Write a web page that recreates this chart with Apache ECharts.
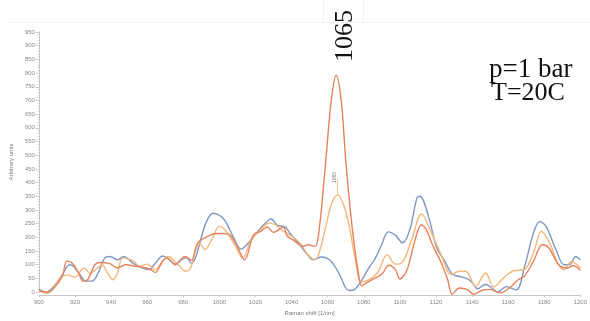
<!DOCTYPE html>
<html>
<head>
<meta charset="utf-8">
<script src="https://cdn.jsdelivr.net/npm/echarts@6/dist/echarts.min.js"></script>
<style>
  html, body { margin: 0; padding: 0; background: #fff; }
  #chart { width: 590px; height: 321px; }
</style>
</head>
<body>
<div id="chart"></div>
<script>
// Raman spectra, three runs at p = 1 bar, T = 20 C
const blueShift = [900,904,909,913,917,919,923,926,929.5,933,936.5,939.5,943.5,947,952,956.5,961,964.5,968.5,972,975.5,979.5,982,984.5,987,990,993,996.5,1000,1003,1007.5,1012,1017.5,1022,1026,1028.5,1032,1036.5,1039,1044.5,1049,1052,1056.5,1061,1066,1070,1072,1075,1079,1083,1086.5,1090,1093.5,1097.5,1101.5,1105.5,1109.5,1111,1113,1116.5,1120.5,1124.5,1129,1133,1137,1140,1143,1147.5,1151,1154,1159,1164.5,1169,1174,1177.5,1181,1186.5,1191,1194,1197.5,1200];
const blueValues = [10,0,27,64,100,95,62,40,40,72,125,130,118,130,106,90,82,105,132,120,102,120,125,105,130,200,260,288,280,262,205,157,190,228,255,268,245,238,216,173,135,118,128,118,72,15,6,10,45,90,125,175,220,208,180,228,345,350,335,262,160,118,66,57,50,35,12,28,15,0,20,8,90,215,258,240,155,100,100,130,118];

const redShift = [900,905,909,913,915.5,918.5,922,924.5,927,931,934,939,943.5,948,954,959.5,962,964.5,968.5,971,975.5,978.5,981,984.5,988,994,998,1002,1006,1010,1014,1019,1023,1026.5,1030,1035.5,1037.5,1041,1046.5,1049,1053,1055.5,1059,1062,1064.7,1067.5,1070,1073.5,1077,1079,1081,1086.5,1090,1094,1097.5,1100,1104,1108,1112,1114.5,1118.5,1123,1126.5,1129,1133,1137.5,1141,1145,1150,1155.5,1161,1165.5,1169,1174,1179,1182.5,1188,1192.5,1196,1200];
const redValues = [5,0,20,58,113,105,70,40,45,100,108,105,88,100,94,88,82,72,112,125,100,118,130,116,180,205,214,214,208,165,118,210,222,238,218,238,205,190,167,173,167,240,483,700,792,700,483,240,70,22,32,52,65,98,82,48,82,180,246,230,167,106,45,-8,15,9,-8,5,10,-3,16,45,58,112,173,162,100,88,96,80];

const amberShift = [900,904.5,908.5,912,915.5,920,925,928.5,932,935,938,941,943.5,946.5,952,956,960,964.5,969,972,975.5,978,981,984,986.6,989,992,995.6,1000,1003.8,1008.4,1013,1017.5,1022,1027.5,1031,1035.6,1039,1044.7,1049,1053,1056,1059,1062,1065.5,1069,1072,1075,1078.4,1081,1087.5,1093,1097.5,1101,1106.5,1112,1117.5,1123,1128.5,1133,1136.5,1142,1147.5,1152,1157.5,1163,1169,1174,1178.5,1183,1187.5,1191,1195,1200];
const amberValues = [5,-5,20,55,62,55,88,68,85,100,70,45,70,125,115,95,102,82,118,130,110,95,76,88,148,178,155,190,240,222,173,125,190,222,252,246,222,209,179,137,118,160,240,320,355,315,240,130,38,40,70,137,102,106,191,285,216,135,64,76,76,21,70,19,52,78,82,143,222,179,106,82,112,88];

const xTicks = { min: 900, max: 1200, step: 20 };
const yTicks = { min: 0, max: 950, step: 50 };
const peakShift = 1065.5;
const peakTag = '1065';
const tagLift = 60; // leader length above the peak, in axis units

function pairs(xs, ys) { return xs.map((x, i) => [x, ys[i]]); }

const peakValue = amberValues[amberShift.indexOf(peakShift)];

const chart = echarts.init(document.getElementById('chart'), null, { renderer: 'canvas' });

const lineBase = { type: 'line', smooth: 0.35, showSymbol: false, symbol: 'none', clip: false, silent: true };

chart.setOption({
  animation: false,
  backgroundColor: '#fff',
  grid: { left: 38, right: 2, top: 32, bottom: 28.5 },
  xAxis: {
    type: 'value', min: xTicks.min, max: xTicks.max, interval: xTicks.step,
    name: 'Raman shift [1/cm]', nameLocation: 'middle', nameGap: 14,
    nameTextStyle: { fontSize: 6, color: '#777', fontFamily: 'Liberation Sans' },
    offset: 3,
    axisLine: { onZero: false, lineStyle: { color: '#c8c8c8', width: 1 } },
    axisTick: { show: true, length: 2, lineStyle: { color: '#c8c8c8' } },
    axisLabel: { fontSize: 6, color: '#888', margin: 4, fontFamily: 'Liberation Sans', formatter: v => String(v), hideOverlap: false },
    splitLine: { show: false }
  },
  yAxis: {
    type: 'value', min: yTicks.min, max: yTicks.max, interval: yTicks.step,
    name: 'Arbitrary units', nameLocation: 'middle', nameGap: 14, nameRotate: 90,
    nameTextStyle: { fontSize: 6, color: '#777', fontFamily: 'Liberation Sans' },
    axisLine: { show: true, lineStyle: { color: '#c8c8c8', width: 1 } },
    axisTick: { show: true, length: 3, lineStyle: { color: '#c8c8c8' } },
    minorTick: { show: true, splitNumber: 5, length: 1.5, lineStyle: { color: '#d8d8d8' } },
    axisLabel: { fontSize: 6, color: '#888', margin: 4, fontFamily: 'Liberation Sans', formatter: v => String(v) },
    splitLine: { show: false }
  },
  series: [
    Object.assign({}, lineBase, {
      name: 'blue', data: pairs(blueShift, blueValues),
      lineStyle: { color: '#7d98c4', width: 1.4 }, z: 2
    }),
    Object.assign({}, lineBase, {
      name: 'amber', data: pairs(amberShift, amberValues),
      lineStyle: { color: '#f4b77a', width: 1.4 }, z: 3,
      markLine: {
        silent: true, symbol: 'none',
        lineStyle: { color: '#f4b77a', width: 0.8, type: 'solid' },
        label: {
          show: true, position: 'end', formatter: peakTag, rotate: 90,
          fontSize: 5, color: '#777', fontFamily: 'Liberation Sans', distance: 1
        },
        data: [[
          { coord: [peakShift, peakValue] },
          { coord: [peakShift, peakValue + tagLift] }
        ]]
      }
    }),
    Object.assign({}, lineBase, {
      name: 'red', data: pairs(redShift, redValues),
      lineStyle: { color: '#e7825c', width: 1.4 }, z: 4
    })
  ],
  graphic: [
    { type: 'line', shape: { x1: 7, y1: 22.5, x2: 590, y2: 22.5 }, style: { stroke: '#f0f0f0', lineWidth: 1 }, silent: true },
    { type: 'line', shape: { x1: 323.5, y1: 0, x2: 323.5, y2: 22.5 }, style: { stroke: '#f0f0f0', lineWidth: 1 }, silent: true },
    { type: 'line', shape: { x1: 363.5, y1: 0, x2: 363.5, y2: 22.5 }, style: { stroke: '#f0f0f0', lineWidth: 1 }, silent: true },
    {
      type: 'text', x: 345, y: 36, rotation: Math.PI / 2,
      style: { text: '1065', font: '26px "Liberation Serif"', fill: '#111', textAlign: 'center', textVerticalAlign: 'middle' }
    },
    {
      type: 'text', x: 489, y: 70,
      style: { text: 'p=1 bar', font: '27px "Liberation Serif"', fill: '#111', textAlign: 'left', textVerticalAlign: 'middle' }
    },
    {
      type: 'text', x: 491, y: 93,
      style: { text: 'T=20C', font: '26px "Liberation Serif"', fill: '#111', textAlign: 'left', textVerticalAlign: 'middle' }
    }
  ]
});
</script>
</body>
</html>
